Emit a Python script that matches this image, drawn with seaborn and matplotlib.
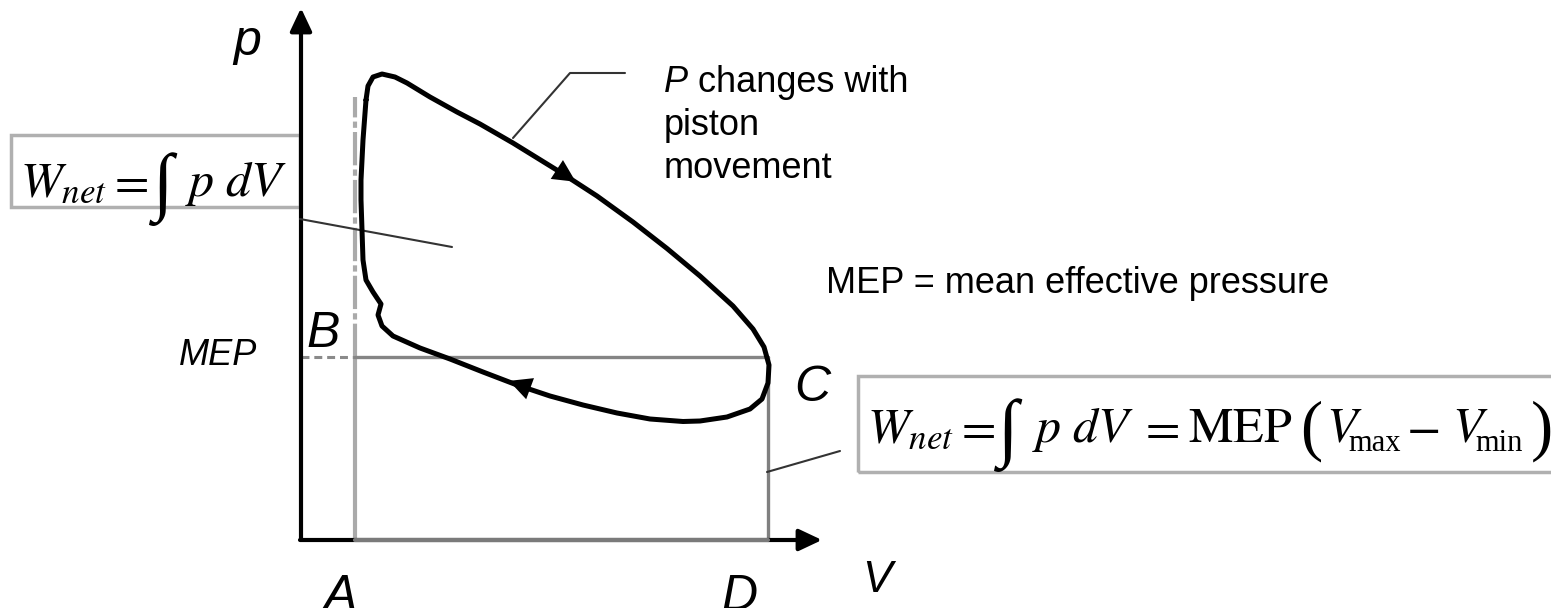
import numpy as np
import matplotlib
matplotlib.use("Agg")
import matplotlib.pyplot as plt
from matplotlib.patches import Rectangle, FancyArrowPatch
import seaborn as sns

# ---- p-V indicator loop (V measured from the origin, p upward) ----
loop_v = [65, 67, 72, 81, 94, 106, 129, 156, 179, 212, 259, 296, 332, 366, 399,
          432, 452, 463, 468, 467, 461, 449, 426, 399, 382, 349, 316, 282, 249,
          216, 182, 149, 119, 92, 81, 77, 80, 72, 65, 62, 61, 60, 60, 62, 65]
loop_p = [440, 454, 463, 466, 463, 457, 443, 428, 416, 397, 368, 344, 318, 291.5, 264,
          234, 211, 193, 175, 157, 141, 131, 123, 119, 118.5, 121, 127, 135, 144,
          155, 168, 181, 192, 204, 214, 225, 236, 248, 260, 280, 310, 340, 360, 400, 440]

# equivalent rectangle: V_min .. V_max at the mean effective pressure
v_min, v_max = 54, 467
mep = 183
p_dashdot_top = 443

# axis extents
v_axis_end = 521
p_axis_end = 532

point_labels = ["A", "B", "C", "D"]

sns.set_theme(style="white")
plt.rcParams["font.family"] = ["Liberation Sans", "DejaVu Sans"]
plt.rcParams["mathtext.fontset"] = "stix"
plt.rcParams["text.color"] = "black"

fig = plt.figure(figsize=(15.51, 6.08), dpi=100)
ax = fig.add_axes([0, 0, 1, 1])
ax.set_xlim(-301, 1250)
ax.set_ylim(-68, 540)
ax.axis("off")

# axes with arrowheads
arrow_kw = dict(arrowstyle="-|>,head_length=0.7,head_width=0.33", lw=3,
                color="black", shrinkA=0, shrinkB=0, mutation_scale=20)
ax.annotate("", xy=(0, p_axis_end), xytext=(0, 0), arrowprops=arrow_kw, zorder=3)
ax.annotate("", xy=(v_axis_end, 0), xytext=(-1, 0), arrowprops=arrow_kw, zorder=3)

# rectangle A-B-C-D
ax.plot([v_min, v_min], [0, mep], color="#aaaaaa", lw=3, zorder=2)
ax.plot([v_min, v_min], [mep, p_dashdot_top], color="#aaaaaa", lw=3,
        ls=(0, (8, 1, 1.5, 1)), zorder=2)
ax.plot([0, v_min], [mep, mep], color="#8a8a8a", lw=2.2, ls=(0, (2.6, 1.6)), zorder=2)
ax.plot([v_min, v_max], [mep, mep], color="#858585", lw=2.4, zorder=2)
ax.plot([v_max, v_max], [0, mep], color="#808080", lw=2.4, zorder=2)
ax.plot([v_min, v_max], [0, 0], color="#7a7a7a", lw=3, zorder=4)

# the cycle itself
sns.lineplot(x=loop_v, y=loop_p, sort=False, estimator=None, color="black",
             linewidth=3.6, ax=ax, zorder=5)
for ln in ax.lines[-1:]:
    ln.set_solid_joinstyle("round")
    ln.set_solid_capstyle("round")

# direction arrows on the cycle
for (x0, y0), (dx, dy) in [((272, 360), (1.0, -0.65)), ((211, 158), (-1.0, 0.37))]:
    n = np.hypot(dx, dy)
    dx, dy = dx / n, dy / n
    ax.add_patch(FancyArrowPatch((x0 - 14 * dx, y0 - 14 * dy), (x0 + 6 * dx, y0 + 6 * dy),
                                 arrowstyle="-|>,head_length=0.9,head_width=0.45",
                                 mutation_scale=18, color="black", lw=0, zorder=6))

# leader lines
lead_kw = dict(color="#333333", lw=1.5, zorder=4)
ax.plot([212, 269, 324], [402, 467, 467], **lead_kw)
ax.plot([-1, 151], [321, 293], **lead_kw)
ax.plot([466, 539], [68, 89], **lead_kw)

# axis and point labels
lab_kw = dict(style="italic", fontsize=36, color="black")
ax.text(-54, 485, "p", ha="center", va="baseline", **lab_kw)
ax.text(576, -52, "V", ha="center", va="baseline", fontsize=32, style="italic")
ax.text(39, -34, point_labels[0], ha="center", va="top", **lab_kw)
ax.text(22, 193, point_labels[1], ha="center", va="baseline", **lab_kw)
ax.text(511, 139, point_labels[2], ha="center", va="baseline", **lab_kw)
ax.text(439, -34, point_labels[3], ha="center", va="top", **lab_kw)
ax.text(-83, 175, "MEP", ha="center", va="baseline", style="italic", fontsize=26)

# annotations
ax.text(363, 448, "P", ha="left", va="baseline", style="italic", fontsize=26)
ax.text(397, 448, "changes with", ha="left", va="baseline", fontsize=26)
ax.text(363, 405, "piston", ha="left", va="baseline", fontsize=26)
ax.text(363, 362, "movement", ha="left", va="baseline", fontsize=26)
ax.text(525, 247, "MEP = mean effective pressure", ha="left", va="baseline", fontsize=26)

# formula boxes
box_kw = dict(fill=False, edgecolor="#b0b0b0", lw=2.5, zorder=1)
ax.add_patch(Rectangle((-290, 333), 289, 72, **box_kw))
ax.add_patch(Rectangle((557, 68), 702, 96, **box_kw))

fs = 36
serif = ["Liberation Serif", "DejaVu Serif"]


def formula(pieces, y):
    for x, s, kind in pieces:
        if kind == "int":
            ax.text(x, y - 10, s, ha="left", va="baseline", fontsize=54, family=serif)
        elif kind == "paren":
            ax.text(x, y - 6, s, ha="left", va="baseline", fontsize=48, family=serif)
        elif kind == "sub":
            ax.text(x, y - 9, s, ha="left", va="baseline", fontsize=22, family=serif)
        else:
            ax.text(x, y, s, ha="left", va="baseline", fontsize=fs)


formula([(-281, r"$W_{net}$", "m"), (-194, r"$=$", "m"), (-148, "\u222b", "int"),
         (-116, r"$p$", "m"), (-76, r"$dV$", "m")], 344)

formula([(566, r"$W_{net}$", "m"), (653, r"$=$", "m"), (697, "\u222b", "int"),
         (731, r"$p$", "m"), (771, r"$dV$", "m"), (837, r"$=$", "m"),
         (887, r"$\mathrm{MEP}$", "m"), (999, "(", "paren"),
         (1025, r"$V$", "m"), (1047, "max", "sub"), (1105, r"$-$", "m"),
         (1151, r"$V$", "m"), (1174, "min", "sub"), (1230, ")", "paren")], 98)

fig.savefig("out.png", dpi=100)
